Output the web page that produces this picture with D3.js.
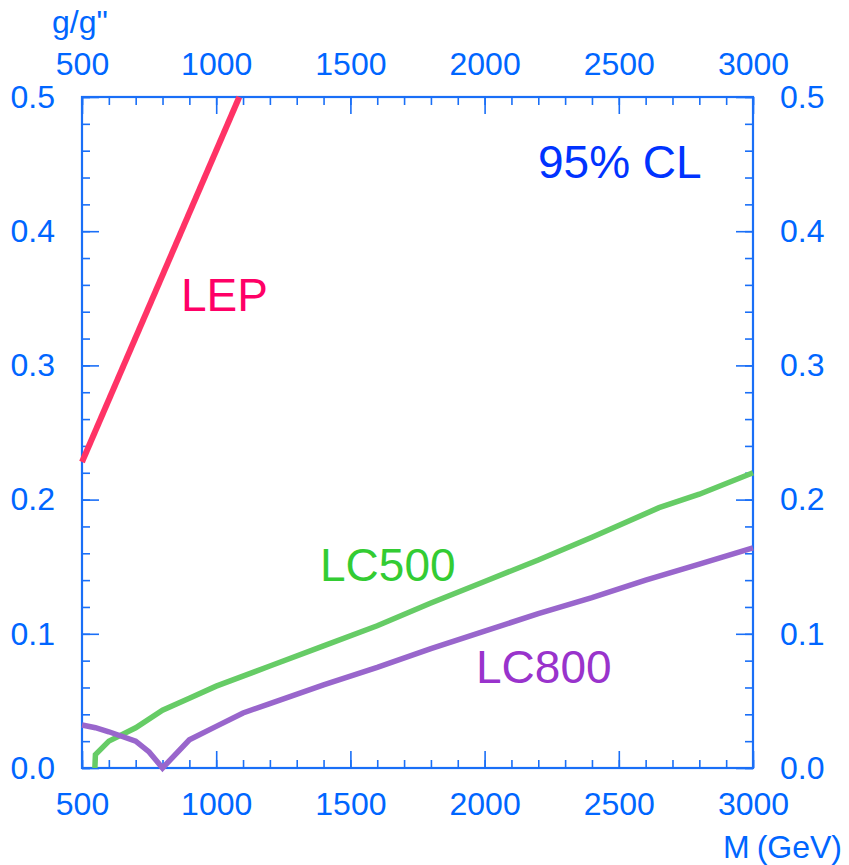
<!DOCTYPE html>
<html><head><meta charset="utf-8">
<script src="https://cdn.jsdelivr.net/npm/d3@7"></script>
<style>
body{margin:0;background:#fff;}
text{font-family:"Liberation Sans",Arial,Helvetica,sans-serif;}
</style></head>
<body><svg id="c" width="849" height="865"></svg>
<script>
// ---- data ----
const xMajorTicks = [500, 1000, 1500, 2000, 2500, 3000];
const yMajorTicks = [0.0, 0.1, 0.2, 0.3, 0.4, 0.5];
const lepM = [500, 1086];
const lepG = [0.228, 0.5];
const lc500M = [548, 550, 600, 700, 800, 900, 1000, 1200, 1400, 1600, 1800, 2000, 2200, 2400, 2650, 2800, 3000];
const lc500G = [0.000, 0.010, 0.020, 0.030, 0.043, 0.052, 0.061, 0.076, 0.091, 0.106, 0.123, 0.139, 0.155, 0.172, 0.194, 0.204, 0.220];
const lc800M = [500, 550, 600, 700, 750, 800, 900, 1000, 1100, 1200, 1400, 1600, 1800, 2000, 2200, 2400, 2600, 2800, 3000];
const lc800G = [0.032, 0.030, 0.027, 0.020, 0.012, 0.000, 0.021, 0.031, 0.041, 0.048, 0.062, 0.075, 0.089, 0.102, 0.115, 0.127, 0.140, 0.152, 0.164];

const L = 82, R = 753, T = 97, B = 768;
const axisColor = "#1a6ff7";
const labelColor = "#0066ff";

const svg = d3.select("#c");
const x = d3.scaleLinear().domain([500, 3000]).range([L, R]);
const y = d3.scaleLinear().domain([0, 0.5]).range([B, T]);

const xMinor = d3.range(500, 3001, 100);
const yMinor = d3.range(0, 0.5001, 0.02).map(v => +v.toFixed(2));
const fmtY = d3.format(".1f");

function styleAxis(g, showText) {
  g.select(".domain").remove();
  g.selectAll(".tick line").attr("stroke", axisColor).attr("stroke-width", 1.6);
  if (!showText) g.selectAll(".tick text").remove();
  else g.selectAll(".tick text").attr("fill", labelColor).style("font-size", "32px")
      .style("font-family", '"Liberation Sans",Arial,Helvetica,sans-serif');
}

// minor ticks
svg.append("g").attr("transform", `translate(0,${B})`)
  .call(d3.axisBottom(x).tickValues(xMinor).tickSize(-8)).call(g => styleAxis(g, false));
svg.append("g").attr("transform", `translate(0,${T})`)
  .call(d3.axisTop(x).tickValues(xMinor).tickSize(-8)).call(g => styleAxis(g, false));
svg.append("g").attr("transform", `translate(${L},0)`)
  .call(d3.axisLeft(y).tickValues(yMinor).tickSize(-8)).call(g => styleAxis(g, false));
svg.append("g").attr("transform", `translate(${R},0)`)
  .call(d3.axisRight(y).tickValues(yMinor).tickSize(-8)).call(g => styleAxis(g, false));

// major ticks + labels
svg.append("g").attr("transform", `translate(0,${B})`)
  .call(d3.axisBottom(x).tickValues(xMajorTicks).tickSize(-17).tickPadding(24).tickFormat(d3.format("d")))
  .call(g => styleAxis(g, true));
svg.append("g").attr("transform", `translate(0,${T})`)
  .call(d3.axisTop(x).tickValues(xMajorTicks).tickSize(-17).tickPadding(22).tickFormat(d3.format("d")))
  .call(g => styleAxis(g, true));
svg.append("g").attr("transform", `translate(${L},0)`)
  .call(d3.axisLeft(y).tickValues(yMajorTicks).tickSize(-17).tickPadding(27).tickFormat(fmtY))
  .call(g => styleAxis(g, true));
svg.append("g").attr("transform", `translate(${R},0)`)
  .call(d3.axisRight(y).tickValues(yMajorTicks).tickSize(-17).tickPadding(27).tickFormat(fmtY))
  .call(g => styleAxis(g, true));

// frame
svg.append("rect").attr("x", L).attr("y", T).attr("width", R - L).attr("height", B - T)
  .attr("fill", "none").attr("stroke", axisColor).attr("stroke-width", 2.2);

// curves
const line = d3.line().x(d => x(d[0])).y(d => y(d[1]));
const plot = svg.append("g");
plot.append("path").datum(d3.zip(lc500M, lc500G)).attr("d", line)
  .attr("fill", "none").attr("stroke", "#66cc66").attr("stroke-width", 5.5).attr("stroke-linejoin", "miter");
plot.append("path").datum(d3.zip(lc800M, lc800G)).attr("d", line)
  .attr("fill", "none").attr("stroke", "#9966cc").attr("stroke-width", 5.5).attr("stroke-linejoin", "miter");
plot.append("path").datum(d3.zip(lepM, lepG)).attr("d", line)
  .attr("fill", "none").attr("stroke", "#ff3366").attr("stroke-width", 6);

// labels
svg.append("text").attr("x", 52).attr("y", 33).attr("fill", labelColor)
  .style("font-size", "32px").text('g/g"');
const mt = svg.append("text").attr("x", 723).attr("y", 858).attr("fill", labelColor).style("font-size", "32px");
mt.append("tspan").text("M");
mt.append("tspan").attr("dx", 7).text("(GeV)");
svg.append("text").attr("x", 538).attr("y", 178).attr("fill", "#0033ff").style("font-size", "46px").text("95% CL");
svg.append("text").attr("x", 181).attr("y", 311).attr("fill", "#ff0066").style("font-size", "46px").text("LEP");
svg.append("text").attr("x", 320).attr("y", 581).attr("fill", "#33cc33").style("font-size", "46px").text("LC500");
svg.append("text").attr("x", 476).attr("y", 683).attr("fill", "#9933cc").style("font-size", "46px").text("LC800");
</script>
</body></html>
